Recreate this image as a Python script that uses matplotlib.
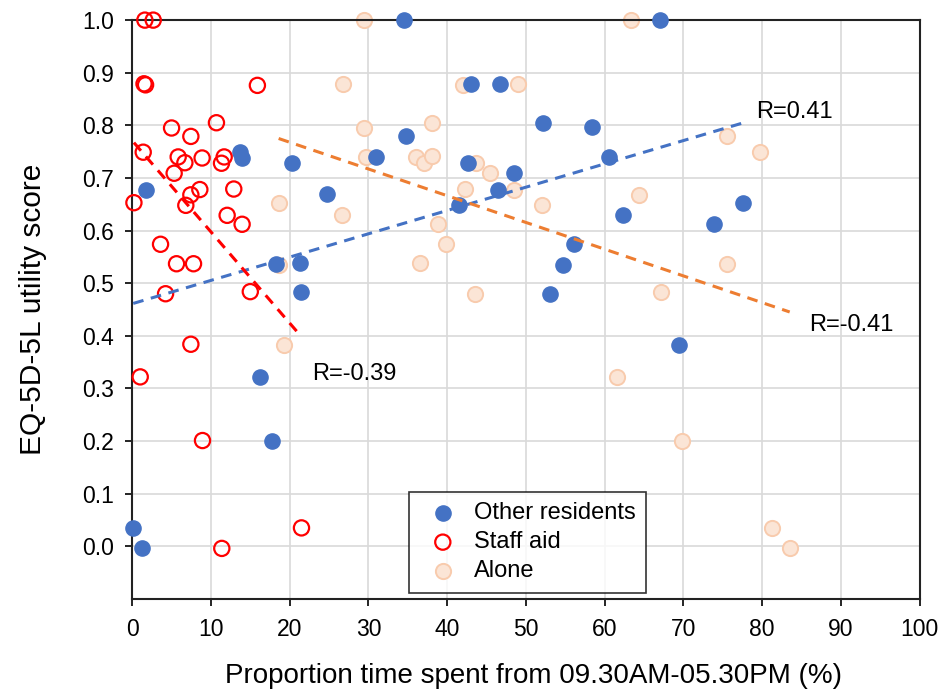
import matplotlib.pyplot as plt
import numpy as np

plt.rcParams['font.family'] = ['Liberation Sans', 'DejaVu Sans']

# Other residents
others_x = [0.13, 1.23, 1.74, 13.67, 14.0, 16.2, 17.8, 18.3, 20.3, 21.3, 21.5, 24.8, 30.9,
            34.5, 34.8, 41.5, 42.7, 43.07, 46.5, 46.7, 48.5, 52.2, 53.0, 54.7, 56.1, 58.4,
            60.5, 62.3, 67.0, 69.5, 73.9, 77.6]
others_y = [0.035, -0.004, 0.678, 0.749, 0.738, 0.322, 0.201, 0.537, 0.728, 0.538, 0.483, 0.669, 0.740,
            1.0, 0.779, 0.648, 0.729, 0.879, 0.678, 0.879, 0.710, 0.805, 0.480, 0.535, 0.574, 0.796,
            0.739, 0.629, 1.0, 0.383, 0.612, 0.652]

# Staff aid
staff_x = [1.61, 2.67, 1.5, 1.7, 15.9, 5.0, 10.7, 7.45, 1.40, 5.84, 6.69, 8.88, 11.68, 11.34,
           5.33, 0.22, 7.45, 8.59, 6.81, 12.9, 12.06, 13.96, 3.6, 5.63, 7.79, 4.24, 15.0,
           7.45, 1.02, 8.93, 11.38, 21.5]
staff_y = [1.0, 1.0, 0.879, 0.877, 0.876, 0.795, 0.805, 0.779, 0.749, 0.740, 0.729, 0.738, 0.740, 0.728,
           0.709, 0.653, 0.668, 0.678, 0.648, 0.679, 0.629, 0.612, 0.574, 0.537, 0.537, 0.480, 0.484,
           0.384, 0.322, 0.201, -0.004, 0.035]

# Alone
alone_x = [29.5, 26.8, 29.4, 29.7, 18.6, 26.6, 18.7, 19.3, 63.4, 42.0, 49.0, 38.1, 36.1, 37.1,
           38.1, 43.7, 45.5, 42.3, 48.5, 38.9, 39.9, 36.5, 43.5, 52.0, 64.4, 67.2, 75.5, 79.7,
           75.6, 61.6, 69.8, 81.3, 83.5]
alone_y = [1.0, 0.879, 0.795, 0.740, 0.653, 0.629, 0.534, 0.383, 1.0, 0.876, 0.879, 0.805, 0.740, 0.729,
           0.741, 0.728, 0.709, 0.679, 0.678, 0.612, 0.574, 0.538, 0.480, 0.649, 0.668, 0.484, 0.779, 0.749,
           0.536, 0.322, 0.201, 0.035, -0.004]

# linear trend lines (intercept, slope) as shown in the chart
others_fit = (0.461, 0.00443)
staff_fit = (0.771, -0.01734)
alone_fit = (0.8695, -0.00508)

fig, ax = plt.subplots(figsize=(9.51, 6.94), dpi=100)
fig.subplots_adjust(left=0.139, right=0.967, top=0.971, bottom=0.137)

ax.scatter(others_x, others_y, s=120, color='#4472C4', zorder=3, label='Other residents', clip_on=False)
ax.scatter(staff_x, staff_y, s=120, facecolor='none', edgecolor='#FF0000', linewidth=1.6,
           zorder=3, label='Staff aid', clip_on=False)
ax.scatter(alone_x, alone_y, s=120, facecolor='#FBE5D6', edgecolor='#F8CBAD', linewidth=1.4,
           zorder=2, label='Alone', clip_on=False)

for xs, fit, col in [(others_x, others_fit, '#4472C4'), (staff_x, staff_fit, '#FF0000'),
                     (alone_x, alone_fit, '#ED7D31')]:
    xx = np.array([min(xs), max(xs)])
    ax.plot(xx, fit[0] + fit[1] * xx, color=col, lw=2.2, ls=(0, (3.5, 2.5)), zorder=4)

ax.text(79.2, 0.826, 'R=0.41', fontsize=17, va='center')
ax.text(86.0, 0.42, 'R=-0.41', fontsize=17, va='center')
ax.text(22.9, 0.327, 'R=-0.39', fontsize=17, va='center')

ax.set_xlim(0, 100)
ax.set_ylim(-0.1, 1.0)
ax.set_xticks(np.arange(0, 101, 10))
ax.set_yticks(np.round(np.arange(0, 1.01, 0.1), 1))
ax.set_yticklabels([f'{v:.1f}' for v in np.arange(0, 1.01, 0.1)])
ax.tick_params(labelsize=16.5, length=5, width=1.2, color='black')
ax.tick_params(axis='y', pad=8)
ax.tick_params(axis='x', pad=9)
ax.grid(True, color='#D9D9D9', lw=1.2)
ax.set_axisbelow(True)
for sp in ax.spines.values():
    sp.set_color('#222222')
    sp.set_linewidth(1.5)

ax.set_xlabel('Proportion time spent from 09.30AM-05.30PM (%)', fontsize=20)
ax.set_ylabel('EQ-5D-5L utility score', fontsize=21.5)
ax.xaxis.set_label_coords(0.51, -0.111)
ax.yaxis.set_label_coords(-0.108, 0.5)

leg = ax.legend(loc='lower left', bbox_to_anchor=(0.345, 0.002), fontsize=17, frameon=True,
                fancybox=False, edgecolor='black', handletextpad=0.3, borderpad=0.45,
                labelspacing=0.3, scatterpoints=1, borderaxespad=0.2)
leg.get_frame().set_linewidth(1.2)

plt.savefig('out.png', dpi=100)
